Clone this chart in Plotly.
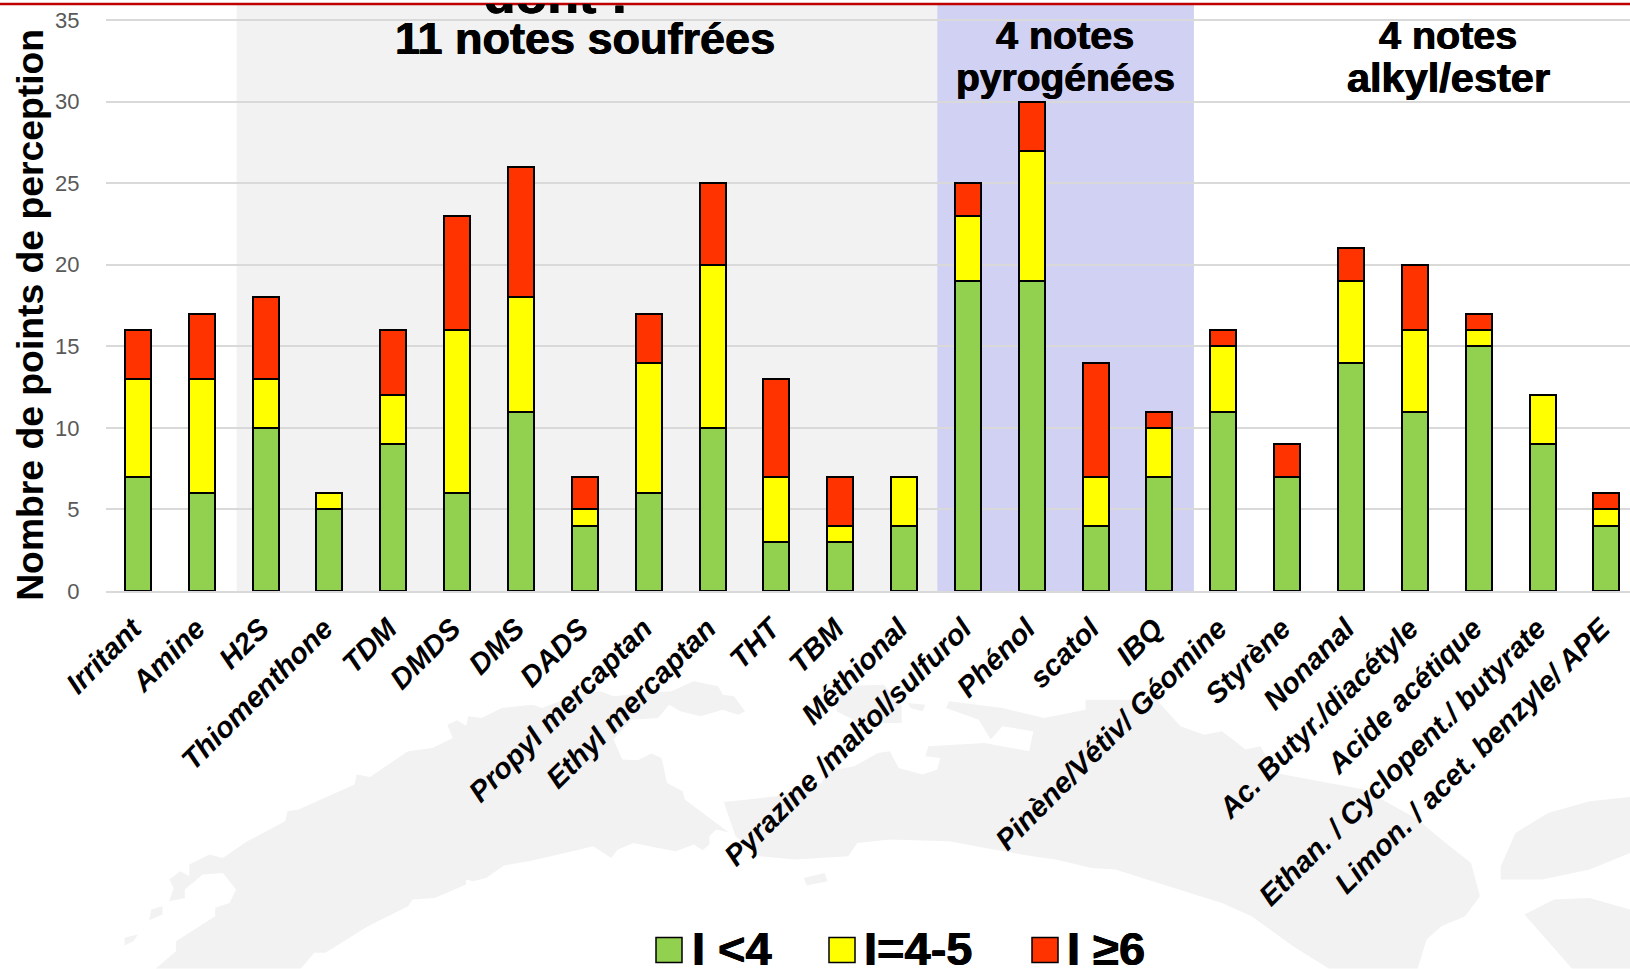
import plotly.graph_objects as go

categories = ["Irritant", "Amine", "H2S", "Thiomenthone", "TDM", "DMDS", "DMS", "DADS",
              "Propyl mercaptan", "Ethyl mercaptan", "THT", "TBM", "Méthional",
              "Pyrazine /maltol/sulfurol", "Phénol", "scatol", "IBQ",
              "Pinène/Vétiv/ Géomine", "Styrène", "Nonanal", "Ac. Butyr./diacétyle",
              "Acide acétique", "Ethan. / Cyclopent./ butyrate", "Limon. / acet. benzyle/ APE"]
low = [7, 6, 10, 5, 9, 6, 11, 4, 6, 10, 3, 3, 4, 19, 19, 4, 7, 11, 7, 14, 11, 15, 9, 4]
mid = [6, 7, 3, 1, 3, 10, 7, 1, 8, 10, 4, 1, 3, 4, 8, 3, 3, 4, 0, 5, 5, 1, 3, 1]
high = [3, 4, 5, 0, 4, 7, 8, 2, 3, 5, 6, 3, 0, 2, 3, 7, 1, 1, 2, 2, 4, 1, 0, 1]
series_names = ["I <4", "I=4-5", "I ≥6"]
series_colors = ["#92D050", "#FFFF00", "#FF3300"]

W, H = 1630, 969
L, B_PX, T = 106, 591.3, 5
PW, PH = W - L, B_PX - T
FONT = "Liberation Sans"
HEAVY = "0.5px 0 0 black, -0.5px 0 0 black"


def px(x):
    return (x - L) / PW


def py(y):
    return (B_PX - y) / PH


def za(pts):
    return [(100 + x / 2.24, 640 + y / 3) for x, y in pts]


def zb(pts):
    return [(700 + x / 1.686, 640 + y / 3) for x, y in pts]


def blob(pts):
    d = "M" + " L".join(f"{px(x):.5f},{py(y):.5f}" for x, y in pts) + " Z"
    return dict(type="path", path=d, xref="paper", yref="paper",
                fillcolor="#F2F2F2", line_width=0, layer="below")


west = za([(125, 987), (170, 935), (170, 905), (258, 830), (258, 805), (290, 790), (305, 750), (275, 700),
           (230, 705), (190, 750), (190, 775), (155, 785), (165, 745), (155, 720), (180, 695), (200, 710),
           (200, 675), (245, 645), (275, 655), (330, 605), (415, 545), (420, 515), (445, 510), (570, 435),
           (575, 405), (605, 412), (640, 380), (690, 335), (745, 325), (790, 295), (778, 255), (800, 242),
           (820, 258), (825, 230), (855, 235), (900, 205), (970, 195), (990, 205), (1060, 170), (1120, 155),
           (1150, 170), (1220, 160), (1280, 155), (1330, 125), (1385, 140), (1395, 165), (1420, 170),
           (1445, 215), (1430, 225), (1395, 210), (1345, 230), (1300, 215), (1275, 195), (1250, 235),
           (1190, 240), (1150, 300), (1170, 360), (1205, 362), (1235, 342), (1258, 355), (1270, 430),
           (1305, 455), (1310, 480), (1408, 578), (1380, 570), (1365, 590), (1365, 615), (1350, 632),
           (1330, 615), (1290, 635), (1250, 625), (1195, 610), (1160, 630), (1145, 655), (1105, 620),
           (1010, 650), (960, 665), (905, 678), (865, 715), (835, 725), (820, 720), (820, 735), (750, 775),
           (700, 780), (690, 800), (600, 860), (505, 940), (480, 940), (450, 987)])
east = zb([(40, 487), (130, 470), (205, 430), (215, 395), (260, 380), (300, 340), (320, 335), (335, 385),
           (375, 405), (400, 390), (405, 355), (380, 350), (385, 320), (480, 310), (555, 335), (562, 275),
           (510, 260), (490, 300), (470, 240), (415, 205), (420, 185), (510, 205), (580, 235), (650, 210),
           (650, 180), (670, 180), (770, 180), (810, 260), (850, 285), (880, 275), (920, 330), (945, 320),
           (970, 400), (1060, 430), (1120, 450), (1210, 540), (1250, 600), (1300, 670), (1315, 770),
           (1290, 830), (1250, 860), (1225, 900), (1210, 987), (1060, 987), (1000, 920), (930, 830),
           (880, 790), (790, 740), (700, 690), (660, 685), (600, 660), (560, 650), (495, 630), (420, 605),
           (320, 600), (265, 610), (250, 650), (160, 660), (100, 650), (60, 590)])
islands = [za([(110, 842), (115, 810), (140, 800), (140, 825)]),
           za([(55, 918), (55, 895), (85, 885), (75, 905)]),
           zb([(235, 140), (310, 135), (340, 200), (340, 250), (270, 250), (230, 215)]),
           zb([(350, 190), (380, 195), (375, 215), (355, 205)]),
           zb([(175, 715), (210, 700), (215, 725), (180, 738)]),
           zb([(1350, 720), (1350, 680), (1375, 580), (1430, 520), (1500, 485), (1568, 472), (1568, 640),
               (1500, 690), (1420, 720)]),
           zb([(1390, 825), (1440, 780), (1500, 775), (1568, 810), (1568, 987), (1470, 987)])]

shapes = [blob(west), blob(east)] + [blob(p) for p in islands]

bands = [(1.547, 12.52, "#F2F2F2"), (12.52, 16.54, "#D1D1F3")]
for x0, x1, c in bands:
    shapes.append(dict(type="rect", xref="x", yref="paper", x0=x0, x1=x1, y0=0, y1=1,
                       fillcolor=c, line_width=0, layer="below"))
shapes.append(dict(type="line", xref="paper", yref="paper", x0=px(0), x1=px(W), y0=py(4), y1=py(4),
                   line=dict(color="#C00000", width=2.5)))

fig = go.Figure()
for name, vals, col in zip(series_names, [low, mid, high], series_colors):
    fig.add_bar(x=categories, y=vals, name=name, marker=dict(color=col, line=dict(color="black", width=2)))


def note(text, cx, cy, size, heavy=True, **kw):
    return dict(text=text, xref="paper", yref="paper", x=px(cx), y=py(cy), showarrow=False,
                font=dict(family=FONT, size=size, color="black", weight="bold",
                          shadow=HEAVY if heavy else "none"), **kw)


anns = [
    note("dont :", 556, 24.5, 52, yanchor="bottom", xanchor="center", height=19.5, width=220, valign="bottom",
         borderpad=0, borderwidth=0),
    note("11 notes soufrées", 585, 39, 45, xanchor="center", yanchor="middle"),
    note("4 notes", 1065, 35, 39.5, xanchor="center", yanchor="middle"),
    note("pyrogénées", 1065, 78, 39, xanchor="center", yanchor="middle"),
    note("4 notes", 1448, 35, 39.5, xanchor="center", yanchor="middle"),
    note("alkyl/ester", 1448, 78, 41.5, xanchor="center", yanchor="middle"),
    note("Nombre de points de perception", 30, 315, 37.3, heavy=False, textangle=-90,
         xanchor="center", yanchor="middle"),
]
swatches = [(656, 690), (829, 862), (1032, 1065)]
for (sx, tx), name, col in zip(swatches, series_names, series_colors):
    shapes.append(dict(type="rect", xref="paper", yref="paper", x0=px(sx), x1=px(sx + 26),
                       y0=py(963), y1=py(938), fillcolor=col, line=dict(color="black", width=1.5)))
    anns.append(note(name, tx, 949, 47, xanchor="left", yanchor="middle"))

fig.update_layout(
    width=W, height=H, barmode="stack", bargap=0.593, showlegend=False,
    paper_bgcolor="white", plot_bgcolor="rgba(0,0,0,0)",
    margin=dict(l=L, r=0, t=T, b=H - B_PX, pad=0, autoexpand=False),
    shapes=shapes, annotations=anns,
    xaxis=dict(range=[-0.5, 23.37], tickangle=-45, showgrid=False, automargin=False,
               tickfont=dict(family=FONT, size=29, color="black", weight="bold", style="italic"),
               ticklabelshift=-5,
               ticks="outside", ticklen=7, tickcolor="rgba(0,0,0,0)", linecolor="#D9D9D9", linewidth=2),
    yaxis=dict(range=[0, 35.92], tick0=0, dtick=5, automargin=False, gridcolor="#D9D9D9", gridwidth=2,
               zeroline=False, tickfont=dict(family=FONT, size=22, color="#595959"),
               ticks="outside", ticklen=21, tickcolor="rgba(0,0,0,0)"),
)
fig.write_html("out.html", config={"displayModeBar": False},
               post_script="document.body.style.margin='0';document.body.style.overflow='hidden';")
